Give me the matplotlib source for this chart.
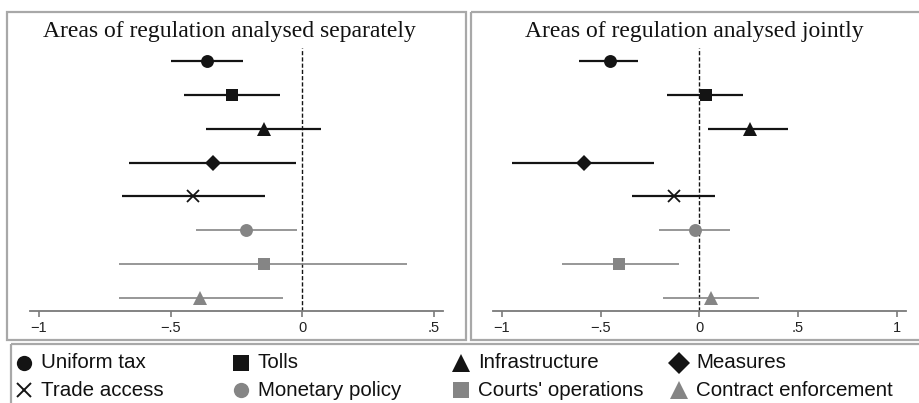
import matplotlib.pyplot as plt
from matplotlib.patches import Rectangle

# coefficient estimates with 95% confidence bounds, one row per area of regulation
areas = ['Uniform tax', 'Tolls', 'Infrastructure', 'Measures',
         'Trade access', 'Monetary policy', "Courts' operations", 'Contract enforcement']
markers = ['o', 's', '^', 'D', 'x', 'o', 's', '^']
shades = ['k', 'k', 'k', 'k', 'k', 'g', 'g', 'g']

sep_est = [-0.363, -0.267, -0.147, -0.340, -0.416, -0.214, -0.147, -0.388]
sep_lo = [-0.499, -0.451, -0.366, -0.658, -0.686, -0.403, -0.696, -0.696]
sep_hi = [-0.224, -0.086, 0.071, -0.024, -0.143, -0.020, 0.399, -0.075]

joint_est = [-0.453, 0.034, 0.255, -0.585, -0.127, -0.020, -0.409, 0.057]
joint_lo = [-0.610, -0.166, 0.046, -0.947, -0.340, -0.203, -0.698, -0.186]
joint_hi = [-0.309, 0.220, 0.451, -0.228, 0.079, 0.157, -0.101, 0.304]

sep_ticks = [-1, -0.5, 0, 0.5]
sep_ticklabels = ['\u22121', '\u2212.5', '0', '.5']
joint_ticks = [-1, -0.5, 0, 0.5, 1]
joint_ticklabels = ['\u22121', '\u2212.5', '0', '.5', '1']

BLACK = '#141414'
GREY = '#858585'
BOX = '#a8a8a8'
W, H = 920, 403

fig = plt.figure(figsize=(W / 100, H / 100), dpi=100)

# background axes in pixel units for the frames, titles and key
bg = fig.add_axes([0, 0, 1, 1])
bg.set_xlim(0, W)
bg.set_ylim(H, 0)
bg.axis('off')

for x0, y0, x1, y1 in [(7, 12, 466, 340), (471, 12, 923, 340), (11, 344, 923, 406)]:
    bg.add_patch(Rectangle((x0, y0), x1 - x0, y1 - y0, fill=False, ec=BOX, lw=1.6,
                           clip_on=True))


def px_axes(x0, x1, y0, y1):
    return fig.add_axes([x0 / W, 1 - y1 / H, (x1 - x0) / W, (y1 - y0) / H])


def coef_panel(ax, est, lo, hi, xlim, ticks, ticklabels):
    for i in range(len(est)):
        y = i + 1
        col = BLACK if shades[i] == 'k' else GREY
        lw = 1.6 if shades[i] == 'k' else 1.2
        ax.hlines(y, lo[i], hi[i], color=col, lw=lw, zorder=2)
        m = markers[i]
        ms = {'o': 9.3, 's': 8.8, '^': 10.0, 'D': 8.6, 'x': 8.5}[m]
        ax.plot(est[i], y, marker=m, ms=ms, color=col, mew=1.3 if m == 'x' else 0,
                linestyle='none', zorder=3)
    ax.axvline(0, color=BLACK, lw=1.0, ls=(0, (3, 1.5)), zorder=1)
    ax.set_xlim(*xlim)
    ax.set_ylim(8.4, 0.6)
    ax.set_yticks([])
    ax.set_xticks(ticks)
    ax.set_xticklabels(ticklabels)
    for s in ['top', 'left', 'right']:
        ax.spines[s].set_visible(False)
    ax.spines['bottom'].set_color('#7a7a7a')
    ax.spines['bottom'].set_linewidth(1.3)
    ax.tick_params(axis='x', direction='out', length=4, width=1.2, color='#7a7a7a',
                   labelsize=10.5, labelcolor='#222222', pad=3)
    for lab in ax.get_xticklabels():
        lab.set_family('Liberation Sans')
    ax.patch.set_alpha(0)


ax1 = px_axes(30, 443, 48, 311)
coef_panel(ax1, sep_est, sep_lo, sep_hi, (-1.034, 0.534), sep_ticks, sep_ticklabels)
ax2 = px_axes(493, 906, 48, 311)
coef_panel(ax2, joint_est, joint_lo, joint_hi, (-1.0456, 1.047), joint_ticks, joint_ticklabels)

bg.text(229, 37, 'Areas of regulation analysed separately', ha='center', va='baseline',
        family='Liberation Serif', fontsize=17, color='#111111')
bg.text(694, 37, 'Areas of regulation analysed jointly', ha='center', va='baseline',
        family='Liberation Serif', fontsize=17, color='#111111')

# key: two rows of four entries
key_mx = [24, 241, 461, 679]
key_rows = [363, 390]
for i, name in enumerate(areas):
    r, c = divmod(i, 4)
    col = BLACK if shades[i] == 'k' else GREY
    m = markers[i]
    ms = {'o': 11, 's': 11, '^': 12.5, 'D': 11, 'x': 10.5}[m]
    bg.plot(key_mx[c], key_rows[r], marker=m, ms=ms, color=col,
            mew=1.4 if m == 'x' else 0, linestyle='none')
    bg.text(key_mx[c] + 17, key_rows[r], name, ha='left', va='center',
            family='Liberation Sans', fontsize=14.8, color='#111111')

fig.savefig('out.png', dpi=100)
